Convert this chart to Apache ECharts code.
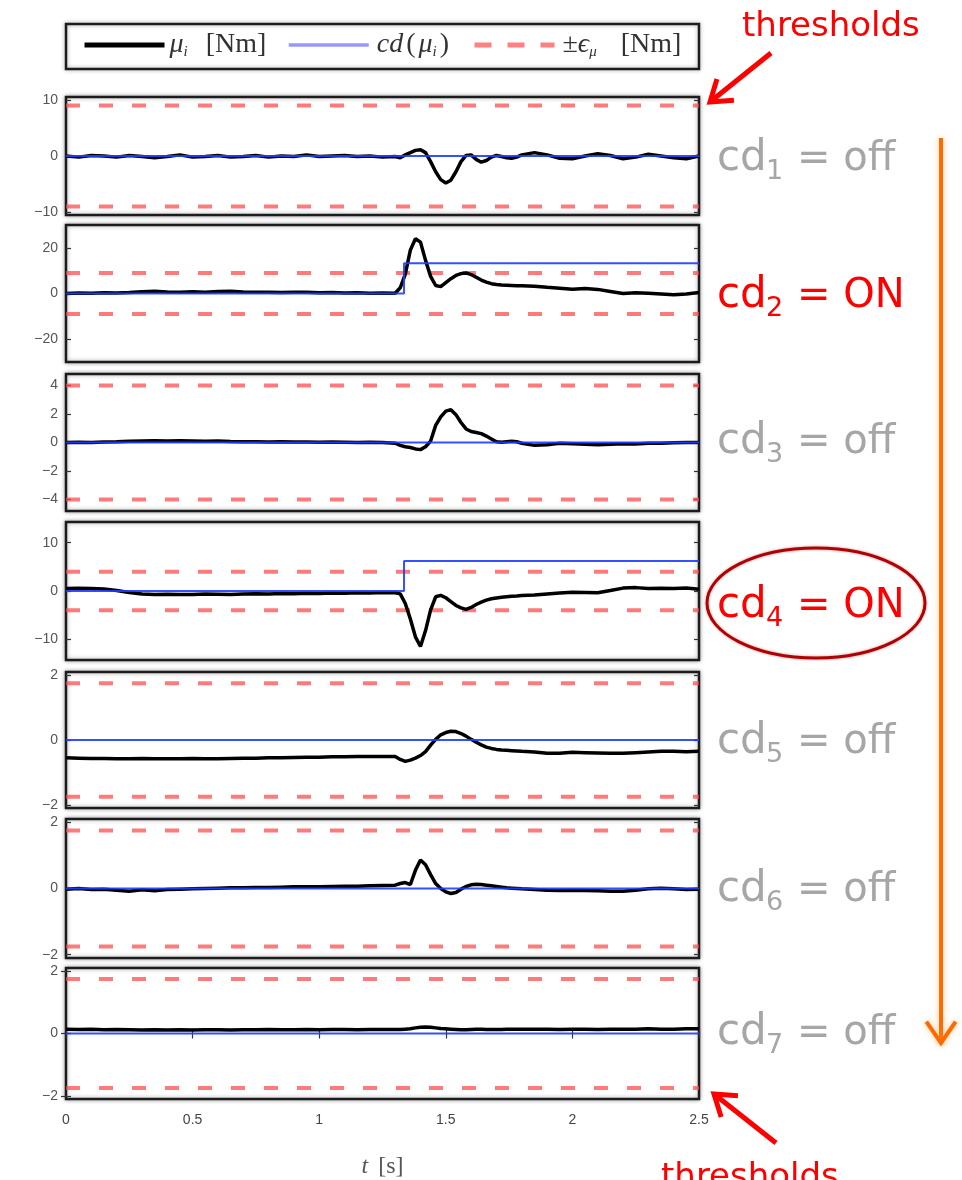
<!DOCTYPE html>
<html>
<head>
<meta charset="utf-8">
<title>collision detection thresholds</title>
<script src="https://cdn.jsdelivr.net/npm/echarts@6/dist/echarts.min.js"></script>
<style>
  html, body { margin: 0; padding: 0; background: #fff; }
  #main { width: 962px; height: 1180px; }
</style>
</head>
<body>
<div id="main"></div>
<script>
// time samples [s]
var t = [0,0.05,0.1,0.15,0.2,0.25,0.3,0.35,0.4,0.45,0.5,0.55,0.6,0.65,0.7,0.75,0.8,0.85,0.9,0.95,1,1.05,1.1,1.15,1.2,1.25,1.3,
  1.32,1.34,1.36,1.38,1.4,1.42,1.44,1.46,1.48,1.5,1.52,1.54,1.56,1.58,1.6,1.62,1.64,1.66,1.68,1.7,1.72,1.74,1.76,1.78,1.8,
  1.85,1.9,1.95,2,2.05,2.1,2.15,2.2,2.25,2.3,2.35,2.4,2.45,2.5];

// mu_i [Nm], one array per joint
var mu1 = [0,-0.2,0.1,0,-0.2,0.1,-0.1,-0.3,-0.1,0.2,-0.2,-0.1,0.1,-0.2,-0.1,0.1,-0.2,0,-0.1,0.2,-0.1,0,0.1,-0.1,0,-0.2,-0.1,
  -0.3,0.2,0.6,1.0,1.1,0.6,-1.0,-2.8,-4.2,-4.8,-4.3,-2.8,-1.0,0.1,0.2,-0.6,-1.1,-0.8,-0.2,0.1,-0.1,-0.3,-0.4,-0.2,0.2,
  0.6,0.2,-0.4,-0.5,0,0.4,0.1,-0.5,-0.2,0.3,0,-0.3,-0.5,0];
var mu2 = [0,0.2,0.1,0.3,0.2,0.4,0.8,1.0,0.7,0.6,0.8,0.5,0.9,1.0,0.7,0.6,0.5,0.4,0.6,0.5,0.3,0.4,0.2,0.3,0.1,0.2,0.1,
  2.5,8.5,19,24,22.5,14.5,7.5,3.5,3.0,4.8,6.5,7.9,8.7,9.0,8.3,7.1,5.9,5.0,4.3,3.9,3.7,3.6,3.5,3.4,3.4,
  3.2,2.7,2.3,1.9,2.2,1.8,0.9,0,0.3,0.1,-0.2,-0.5,-0.2,0.4];
var mu3 = [0,0.02,0,0.03,0.05,0.08,0.1,0.12,0.1,0.12,0.1,0.08,0.1,0.07,0.05,0.06,0.04,0.05,0.03,0.04,0.02,0.03,0.02,0,0.01,0,-0.05,
  -0.2,-0.3,-0.35,-0.45,-0.5,-0.3,0.1,1.2,1.8,2.2,2.3,1.95,1.4,0.95,0.77,0.7,0.62,0.45,0.25,0.05,0.02,0.05,0.08,0.05,-0.05,
  -0.2,-0.15,-0.05,-0.08,-0.12,-0.15,-0.12,-0.08,-0.1,-0.05,-0.05,-0.02,0,0];
var mu4 = [0.5,0.55,0.5,0.4,0.1,-0.3,-0.6,-0.7,-0.65,-0.75,-0.7,-0.6,-0.65,-0.7,-0.6,-0.55,-0.6,-0.5,-0.55,-0.45,-0.5,-0.4,-0.45,-0.35,-0.4,-0.3,-0.35,
  -0.6,-2.6,-5.8,-9.5,-11.5,-8.2,-3.9,-1.2,-0.9,-1.4,-2.2,-3.0,-3.5,-3.8,-3.4,-2.8,-2.3,-1.9,-1.6,-1.45,-1.3,-1.2,-1.1,-1.05,-0.95,
  -0.85,-0.6,-0.4,-0.25,-0.3,-0.35,0.1,0.6,0.7,0.5,0.55,0.5,0.6,0.35];
var mu5 = [-0.55,-0.56,-0.57,-0.57,-0.58,-0.58,-0.57,-0.58,-0.58,-0.58,-0.57,-0.58,-0.58,-0.57,-0.56,-0.56,-0.55,-0.55,-0.54,-0.53,-0.53,-0.52,-0.52,-0.51,-0.51,-0.51,-0.51,
  -0.6,-0.66,-0.62,-0.56,-0.48,-0.36,-0.16,0.02,0.16,0.23,0.27,0.26,0.2,0.12,0.02,-0.07,-0.15,-0.22,-0.26,-0.29,-0.31,-0.32,-0.33,-0.34,-0.35,
  -0.37,-0.41,-0.41,-0.38,-0.39,-0.4,-0.41,-0.41,-0.39,-0.37,-0.35,-0.35,-0.36,-0.35];
var mu6 = [-0.02,0,-0.03,-0.02,-0.05,-0.08,-0.04,-0.07,-0.03,-0.02,-0.01,0,0.01,0.02,0.02,0.03,0.03,0.04,0.05,0.05,0.05,0.06,0.07,0.07,0.08,0.09,0.1,
  0.15,0.18,0.12,0.55,0.86,0.72,0.42,0.15,0,-0.1,-0.15,-0.12,-0.02,0.06,0.11,0.13,0.12,0.1,0.08,0.06,0.04,0.02,0.01,0,-0.01,
  -0.03,-0.05,-0.06,-0.05,-0.06,-0.07,-0.08,-0.08,-0.05,-0.01,0.01,-0.01,-0.03,-0.02];
var mu7 = [0.14,0.13,0.14,0.12,0.13,0.12,0.11,0.12,0.11,0.12,0.11,0.12,0.12,0.11,0.12,0.12,0.13,0.12,0.12,0.13,0.12,0.13,0.13,0.12,0.13,0.13,0.13,
  0.13,0.14,0.15,0.18,0.2,0.21,0.2,0.18,0.16,0.15,0.14,0.13,0.12,0.12,0.13,0.14,0.14,0.13,0.13,0.13,0.13,0.14,0.14,0.14,0.14,
  0.14,0.14,0.13,0.14,0.14,0.13,0.14,0.14,0.14,0.15,0.14,0.14,0.15,0.15];

// cd(mu_i) step signal
var stepT = [0, 1.335, 2.5];
var cd1 = [0, 0, 0];
var cd2 = [0, 13.3, 13.3];
var cd3 = [0, 0, 0];
var cd4 = [0, 6.2, 6.2];
var cd5 = [0, 0, 0];
var cd6 = [0, 0, 0];
var cd7 = [0, 0, 0];

// thresholds +-eps_mu and axis ranges
var eps = [9, 9, 4, 4, 1.75, 1.75, 1.75];
var yMax = [10.5, 30, 4.8, 14.3, 2.1, 2.1, 2.1];
var yTicks = [[-10,0,10], [-20,0,20], [-4,-2,0,2,4], [-10,0,10], [-2,0,2], [-2,0,2], [-2,0,2]];
var xTicks = [0, 0.5, 1, 1.5, 2, 2.5];
var cdState = ['off', 'ON', 'off', 'ON', 'off', 'off', 'off'];

var muAll = [mu1, mu2, mu3, mu4, mu5, mu6, mu7];
var cdAll = [cd1, cd2, cd3, cd4, cd5, cd6, cd7];

// panel frames (pixels)
var panelTop = [97, 225, 374, 522, 672, 819, 968];
var panelBot = [215, 362, 511, 660, 808, 958, 1105];
var labelBase = [173, 310, 456, 620, 756, 904, 1047];

var chart = echarts.init(document.getElementById('main'));

function minus(v) {
  return v < 0 ? '\u2212' + Math.abs(v) : String(v);
}

var grids = [], xAxes = [], yAxes = [], series = [];
for (var i = 0; i < 7; i++) {
  var last = (i === 6);
  grids.push({
    left: 66, right: 263, top: panelTop[i], height: panelBot[i] - panelTop[i],
    show: true, backgroundColor: '#fff', borderColor: '#1c1c1c', borderWidth: 2.5,
    shadowBlur: 4, shadowColor: 'rgba(0,0,0,0.35)'
  });
  xAxes.push({
    type: 'value', gridIndex: i, min: 0, max: 2.5, interval: 0.5,
    axisLine: { show: false }, splitLine: { show: false },
    axisTick: { show: last, inside: true, length: 5, lineStyle: { color: '#333', width: 1.2 } },
    axisLabel: { show: last, margin: 14, color: '#444', fontSize: 14, fontFamily: 'Liberation Sans' },
    name: last ? '{i|t}{sp| }{r|[s]}' : '', nameLocation: 'middle', nameGap: 56,
    nameTextStyle: { rich: {
      i: { fontFamily: 'Liberation Serif', fontStyle: 'italic', fontSize: 24, color: '#555' },
      r: { fontFamily: 'Liberation Serif', fontSize: 24, color: '#555' },
      sp: { width: 10 }
    } }
  });
  yAxes.push({
    type: 'value', gridIndex: i, min: -yMax[i], max: yMax[i], position: 'left',
    axisLine: { show: false }, splitLine: { show: false },
    axisTick: { show: true, inside: true, length: 5, customValues: yTicks[i], lineStyle: { color: '#333', width: 1.2 } },
    axisLabel: { customValues: yTicks[i], margin: 8, color: '#555', fontSize: 14, fontFamily: 'Liberation Sans', formatter: minus }
  });
  yAxes.push({
    type: 'value', gridIndex: i, min: -yMax[i], max: yMax[i], position: 'right',
    axisLine: { show: false }, splitLine: { show: false },
    axisTick: { show: true, inside: true, length: 5, customValues: yTicks[i], lineStyle: { color: '#333', width: 1.2 } },
    axisLabel: { show: false }
  });

  var dash = { color: 'rgba(255,70,70,0.72)', width: 4, type: [14, 19] };
  series.push({
    name: 'eps', type: 'line', xAxisIndex: i, yAxisIndex: 2 * i, symbol: 'none', z: 2,
    itemStyle: { color: '#ff8080' }, lineStyle: dash, data: [[0, eps[i]], [2.5, eps[i]]]
  });
  series.push({
    name: 'eps', type: 'line', xAxisIndex: i, yAxisIndex: 2 * i, symbol: 'none', z: 2,
    itemStyle: { color: '#ff8080' }, lineStyle: dash, data: [[0, -eps[i]], [2.5, -eps[i]]]
  });
  series.push({
    name: 'mu', type: 'line', xAxisIndex: i, yAxisIndex: 2 * i, symbol: 'none', z: 3,
    itemStyle: { color: '#000' }, lineStyle: { color: '#000', width: 3.5 },
    data: t.map(function (x, k) { return [x, muAll[i][k]]; })
  });
  series.push({
    name: 'cd', type: 'line', xAxisIndex: i, yAxisIndex: 2 * i, symbol: 'none', z: 4, step: 'end',
    itemStyle: { color: '#1f3dff' }, lineStyle: { color: '#1f3dff', width: 2, opacity: 0.9 },
    data: stepT.map(function (x, k) { return [x, cdAll[i][k]]; })
  });
}
// top ticks of the last panel
xAxes.push({
  type: 'value', gridIndex: 6, position: 'top', min: 0, max: 2.5, interval: 0.5,
  axisLine: { show: false }, splitLine: { show: false }, axisLabel: { show: false },
  axisTick: { show: true, inside: true, length: 5, lineStyle: { color: '#333', width: 1.2 } }
});

var legRich = {
  it: { fontFamily: 'Liberation Serif', fontStyle: 'italic', fontSize: 28, color: '#333', lineHeight: 30 },
  rm: { fontFamily: 'Liberation Serif', fontSize: 28, color: '#333', lineHeight: 30 },
  sub: { fontFamily: 'Liberation Serif', fontStyle: 'italic', fontSize: 15, color: '#333', verticalAlign: 'bottom' },
  sp: { width: 18 },
  sp3: { width: 24 },
  th: { width: 3 }
};
var legendText = {
  mu: '{it|\u03bc}{sub|i}{sp| }{rm|[Nm]}',
  cd: '{th| }{it|cd}{th| }{rm|(}{th| }{it|\u03bc}{sub|i}{th| }{rm|)}',
  eps: '{th| }{rm|\u00b1}{it|\u03f5}{sub|\u03bc}{sp3| }{rm|[Nm]}'
};
function leg(name, left, line) {
  return {
    data: [name], left: left, top: 31, padding: 0, itemWidth: 80, itemHeight: 14,
    itemStyle: { opacity: 0 }, lineStyle: line,
    formatter: function (n) { return legendText[n]; },
    textStyle: { rich: legRich }
  };
}

// annotation helpers
function arrow(x1, y1, x2, y2, color, w, head) {
  var a = Math.atan2(y2 - y1, x2 - x1), s = 0.6;
  return [
    { type: 'line', shape: { x1: x1, y1: y1, x2: x2, y2: y2 }, style: { stroke: color, lineWidth: w } },
    { type: 'polyline', shape: { points: [
      [x2 - head * Math.cos(a - s), y2 - head * Math.sin(a - s)], [x2, y2],
      [x2 - head * Math.cos(a + s), y2 - head * Math.sin(a + s)] ] },
      style: { stroke: color, lineWidth: w, fill: null, lineJoin: 'miter' } }
  ];
}

var graphics = [
  { type: 'rect', shape: { x: 66, y: 24, width: 633, height: 45 },
    style: { fill: null, stroke: '#1c1c1c', lineWidth: 2.5, shadowBlur: 4, shadowColor: 'rgba(0,0,0,0.35)' } },
  { type: 'text', x: 742, y: 27, style: { text: 'thresholds', fill: '#ff0000', fontSize: 34, fontFamily: 'DejaVu Sans', verticalAlign: 'middle' } },
  { type: 'text', x: 661, y: 1178, style: { text: 'thresholds', fill: '#ff0000', fontSize: 34, fontFamily: 'DejaVu Sans', verticalAlign: 'middle' } },
  { type: 'ellipse', shape: { cx: 816, cy: 603, rx: 109, ry: 55 },
    style: { fill: null, stroke: '#b30000', lineWidth: 3, shadowBlur: 3, shadowColor: 'rgba(120,0,0,0.4)' } }
];
graphics = graphics.concat(arrow(771, 53, 710, 102, '#ff0000', 5, 24));
graphics = graphics.concat(arrow(776, 1143, 714, 1094, '#ff0000', 5, 24));
var orange = arrow(941, 138, 941, 1043, '#ff6a00', 4, 26);
orange.forEach(function (g) { g.style.shadowBlur = 6; g.style.shadowColor = 'rgba(255,150,40,0.5)'; });
graphics = graphics.concat(orange);

for (var j = 0; j < 7; j++) {
  var col = cdState[j] === 'ON' ? '#ff0000' : '#a6a6a6';
  var b = labelBase[j];
  graphics.push({ type: 'text', x: 717, y: b - 14, style: { text: 'cd', fill: col, fontSize: 42, fontFamily: 'DejaVu Sans', verticalAlign: 'middle' } });
  graphics.push({ type: 'text', x: 766, y: b - 1, style: { text: String(j + 1), fill: col, fontSize: 27, fontFamily: 'DejaVu Sans', verticalAlign: 'middle' } });
  graphics.push({ type: 'text', x: 797, y: b - 13, style: { text: '= ' + cdState[j], fill: col, fontSize: 40, fontFamily: 'DejaVu Sans', verticalAlign: 'middle' } });
}

chart.setOption({
  animation: false,
  backgroundColor: '#fff',
  grid: grids,
  xAxis: xAxes,
  yAxis: yAxes,
  legend: [
    leg('mu', 82, { color: '#000', width: 5 }),
    leg('cd', 287, { color: '#8c8cff', width: 3.5 }),
    leg('eps', 472, { color: '#ff8080', width: 5, type: [17, 16] })
  ],
  series: series,
  graphic: graphics
});
</script>
</body>
</html>
